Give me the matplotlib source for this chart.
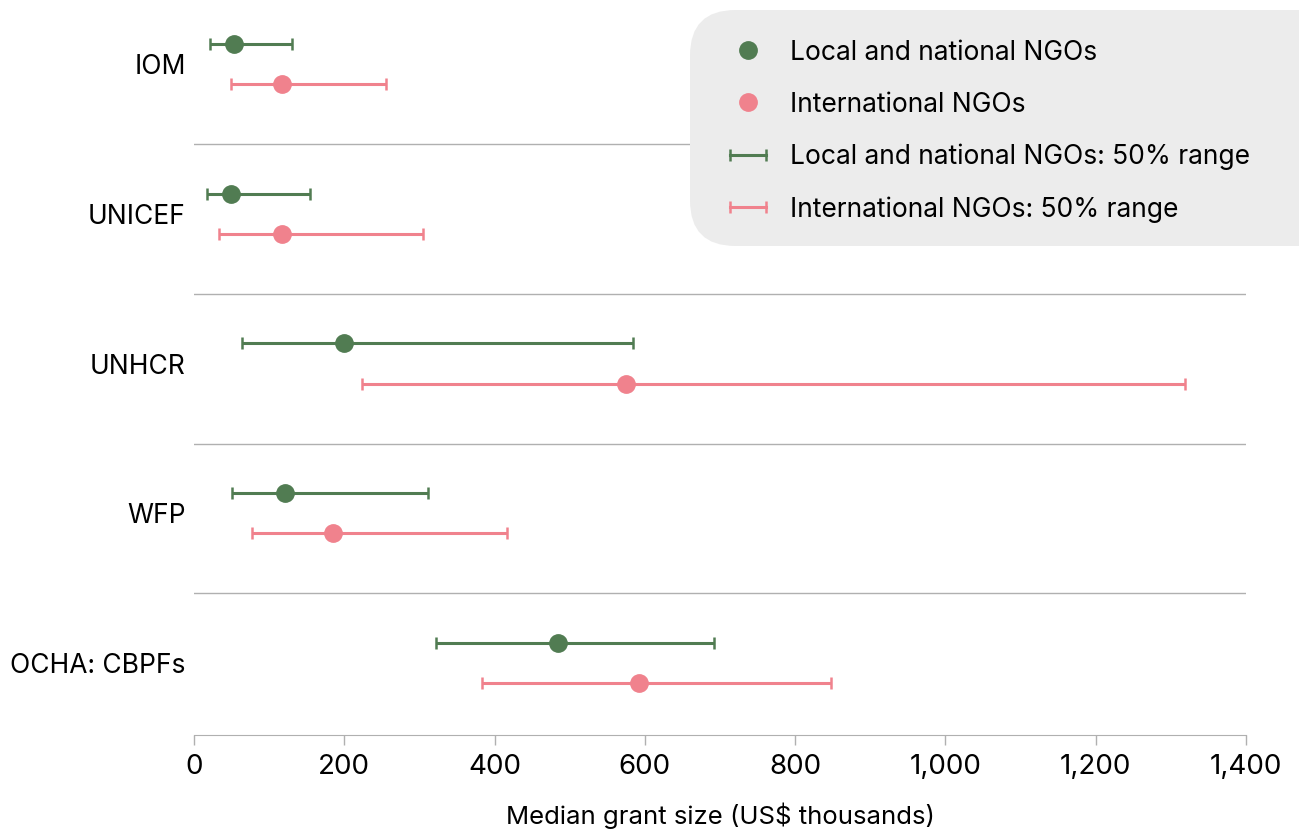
import matplotlib
matplotlib.use("Agg")
import matplotlib.pyplot as plt
from matplotlib.patches import FancyBboxPatch
from matplotlib.lines import Line2D

plt.rcParams['font.family'] = ['Inter', 'DejaVu Sans']

# Median grant size and interquartile range, US$ thousands
agencies = ["IOM", "UNICEF", "UNHCR", "WFP", "OCHA: CBPFs"]
local_median = [53, 49, 200, 121, 484]
local_low = [21, 17, 64, 51, 322]
local_high = [130, 154, 584, 311, 692]
intl_median = [117, 117, 575, 185, 592]
intl_low = [49, 33, 224, 77, 383]
intl_high = [255, 305, 1319, 417, 848]

green = "#517c52"
pink = "#f0828d"
grey = "#b0b0b0"
W, H = 1299, 830

fig = plt.figure(figsize=(12.99, 8.30), dpi=100)
ax = fig.add_axes([0.1493, 0.1145, 0.8099, 0.8855])

ypos = list(range(len(agencies)))
off = 0.134
y_local = [y - off for y in ypos]
y_intl = [y + off for y in ypos]

def err(med, lo, hi):
    return [[m - l for m, l in zip(med, lo)], [h - m for m, h in zip(med, hi)]]

ebkw = dict(fmt="none", elinewidth=2.2, capsize=4.3, capthick=1.8, zorder=2)
ax.errorbar(local_median, y_local, xerr=err(local_median, local_low, local_high),
            ecolor=green, **ebkw)
ax.errorbar(intl_median, y_intl, xerr=err(intl_median, intl_low, intl_high),
            ecolor=pink, **ebkw)
ax.plot(local_median, y_local, "o", color=green, ms=12.5, zorder=3)
ax.plot(intl_median, y_intl, "o", color=pink, ms=12.5, zorder=3)

# separators between agencies
for i in range(len(agencies) - 1):
    ax.axhline(i + 0.535, color=grey, lw=1, zorder=1)

ax.set_xlim(0, 1400)
ax.set_ylim(4.48, -0.427)
ax.set_yticks(ypos)
ax.set_yticklabels(agencies, fontsize=19)
ax.tick_params(axis="y", length=0, pad=6)
ax.set_xticks(range(0, 1401, 200))
ax.set_xticklabels([f"{v:,}" for v in range(0, 1401, 200)], fontsize=20)
ax.tick_params(axis="x", length=7, width=1, color=grey, pad=7)
ax.set_xlabel("Median grant size (US$ thousands)", fontsize=18.5, labelpad=16)
for s in ["top", "right", "left"]:
    ax.spines[s].set_visible(False)
ax.spines["bottom"].set_color(grey)

# legend panel, running off the right edge
box = FancyBboxPatch((690 / W, (H - 246) / H), 700 / W, 236 / H,
                     boxstyle="round,pad=0,rounding_size=0.035",
                     transform=fig.transFigure, facecolor="#ececec",
                     edgecolor="none", zorder=5, mutation_aspect=W / H)
fig.patches.append(box)

legend_rows = [
    ("dot", green, "Local and national NGOs"),
    ("dot", pink, "International NGOs"),
    ("range", green, "Local and national NGOs: 50% range"),
    ("range", pink, "International NGOs: 50% range"),
]
for k, (kind, col, text) in enumerate(legend_rows):
    yy = 1 - (50 + 52.3 * k) / H
    if kind == "dot":
        fig.add_artist(Line2D([748 / W], [yy], marker="o", ls="none", color=col,
                              ms=12.5, transform=fig.transFigure, zorder=6))
    else:
        fig.add_artist(Line2D([730 / W, 766 / W], [yy, yy], color=col, lw=2.2,
                              marker="|", ms=9, mew=1.8,
                              transform=fig.transFigure, zorder=6))
    fig.text(790 / W, yy - 2.5 / H, text, fontsize=19, va="center", ha="left", zorder=6)

fig.savefig("out.png", dpi=100)
